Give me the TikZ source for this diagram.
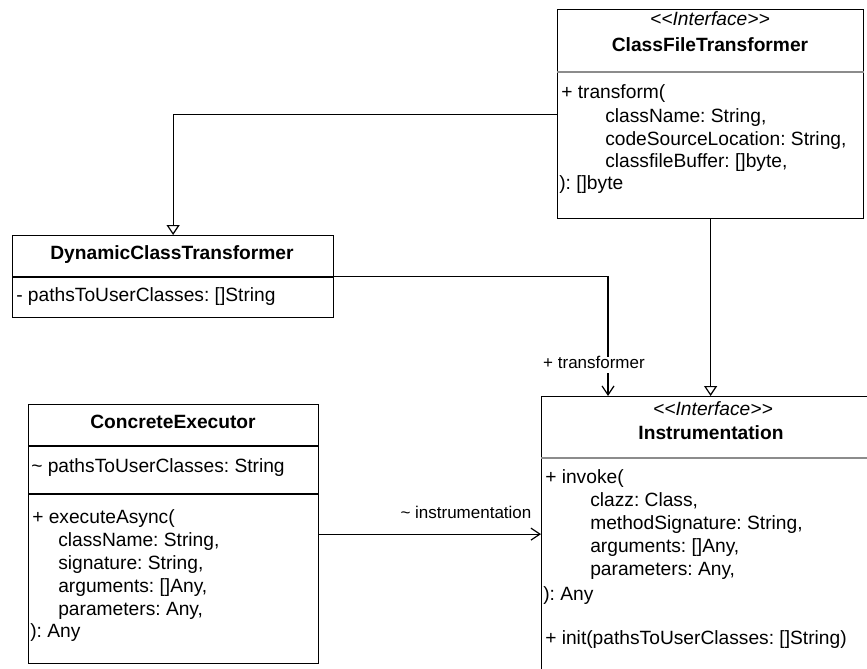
\documentclass[tikz,border=0pt]{standalone}
\usepackage{fontspec}
\setmainfont{Liberation Sans}
\usetikzlibrary{arrows.meta}
\frenchspacing
\newcommand{\stereotype}[1]{{<}{<}#1{>}{>}}
\begin{document}
\begin{tikzpicture}[x=0.75pt,y=-0.75pt,
  umlbox/.style={draw, line width=0.9pt, fill=white, anchor=north west, inner sep=0pt},
  txt/.style={anchor=west, inner sep=0pt, text height=0.72em, text depth=0.21em,
    font=\fontsize{14.4}{17}\selectfont},
  ttl/.style={txt, anchor=center, font=\fontsize{14.4}{17}\selectfont\bfseries},
  stereo/.style={txt, anchor=center, font=\fontsize{14.4}{17}\selectfont\itshape},
  divline/.style={line width=0.9pt},
  softdiv/.style={line width=0.9pt, draw=black!45},
  gen/.style={line width=0.9pt, -{Triangle[open, width=9.75pt, length=7.5pt]}},
  assoc/.style={line width=0.9pt, -{Straight Barb[width=9pt, length=6.75pt]}},
  role/.style={inner sep=1pt, text height=0.72em, text depth=0.21em,
    font=\fontsize{12.75}{15}\selectfont}
]
\useasboundingbox (0,0) rectangle (867,668);
\clip (0,0) rectangle (867,668);

% ---- class boxes ----
\node (cft) [umlbox, minimum width=229.5pt, minimum height=156.75pt] at (557,9) {};
\node (dct) [umlbox, minimum width=240.75pt, minimum height=61.5pt] at (12,235) {};
\node (ce)  [umlbox, minimum width=217.5pt, minimum height=194.25pt] at (28,404) {};
\node (ins) [umlbox, minimum width=254.25pt, minimum height=220.5pt] at (541,396) {};

% compartment separators
\draw[softdiv] (cft.west |- 0,72) -- (cft.east |- 0,72);
\draw[divline] (dct.west |- 0,277) -- (dct.east |- 0,277);
\draw[divline] (ce.west |- 0,446) -- (ce.east |- 0,446);
\draw[divline] (ce.west |- 0,494) -- (ce.east |- 0,494);
\draw[softdiv] (ins.west |- 0,458) -- (ins.east |- 0,458);

% ---- ClassFileTransformer ----
\node (cftS) [stereo] at (710,22) {\stereotype{Interface}};
\node (cftN) [ttl] at (710,48) {ClassFileTransformer};
\node (cftM1) [txt] at (561,95)  {+ transform(};
\node (cftM2) [txt] at (605,119) {className: String,};
\node (cftM3) [txt] at (605,142) {codeSourceLocation: String,};
\node (cftM4) [txt] at (605,164) {classfileBuffer: []byte,};
\node (cftM5) [txt] at (559,186) {): []byte};

% ---- DynamicClassTransformer ----
\node (dctN) [ttl] at (172,256) {DynamicClassTransformer};
\node (dctA) [txt] at (16,298) {- pathsToUserClasses: []String};

% ---- ConcreteExecutor ----
\node (ceN)  [ttl] at (173,425) {ConcreteExecutor};
\node (ceA)  [txt] at (31,469)  {\textasciitilde{} pathsToUserClasses: String};
\node (ceM1) [txt] at (32,520)  {+ executeAsync(};
\node (ceM2) [txt] at (58,543)  {className: String,};
\node (ceM3) [txt] at (58,566)  {signature: String,};
\node (ceM4) [txt] at (58,589)  {arguments: []Any,};
\node (ceM5) [txt] at (58,612)  {parameters: Any,};
\node (ceM6) [txt] at (30,634)  {): Any};

% ---- Instrumentation ----
\node (insS)  [stereo] at (713,412) {\stereotype{Interface}};
\node (insN)  [ttl] at (711,436) {Instrumentation};
\node (insM1) [txt] at (545,480) {+ invoke(};
\node (insM2) [txt] at (590,503) {clazz: Class,};
\node (insM3) [txt] at (590,526) {methodSignature: String,};
\node (insM4) [txt] at (590,549) {arguments: []Any,};
\node (insM5) [txt] at (590,572) {parameters: Any,};
\node (insM6) [txt] at (543,597) {): Any};
\node (insM7) [txt] at (545,641) {+ init(pathsToUserClasses: []String)};

% ---- relations ----
\draw[gen] (cft.west) -| (dct.north);
\draw[gen] (cft.south) -- (cft.south |- ins.north);
\coordinate (tin) at (608,396);
\draw[assoc] (dct.east) -| (tin);
\node (lblT) [role, fill=white] at (594,365) {+ transformer};
\draw[assoc] (ce.east) -- (ce.east -| ins.west);
\node (lblI) [role, anchor=east] at (533,515) {\textasciitilde{} instrumentation};
\end{tikzpicture}
\end{document}
